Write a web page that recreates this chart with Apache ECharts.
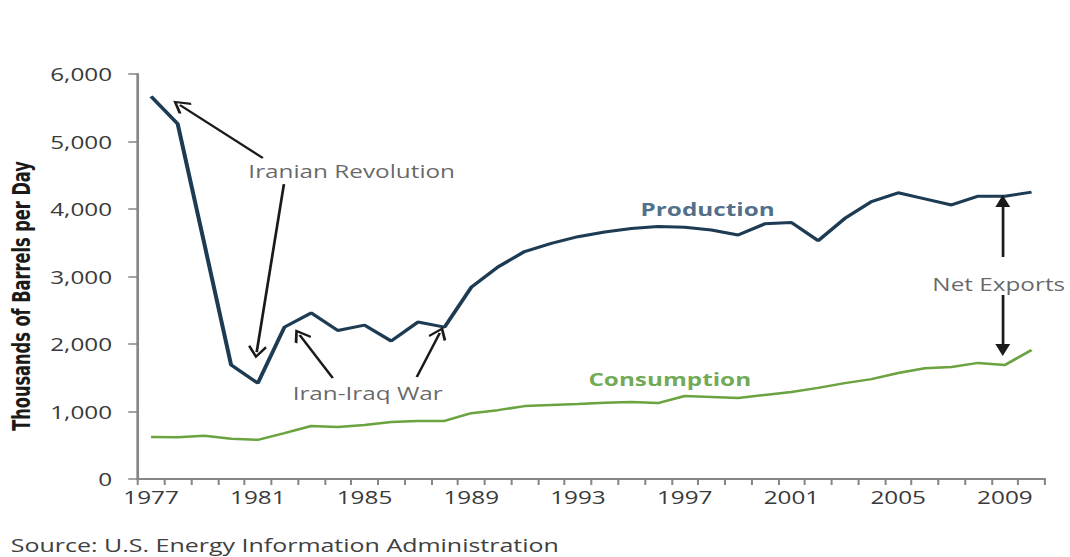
<!DOCTYPE html>
<html>
<head>
<meta charset="utf-8">
<title>Iran oil production and consumption</title>
<script src="https://cdn.jsdelivr.net/npm/echarts@6/dist/echarts.min.js"></script>
<style>
  html, body {
    margin: 0;
    padding: 0;
    background: #fff;
    overflow: hidden;
  }
  /* the source picture is stretched sideways, so the chart is drawn narrower and widened */
  #chart {
    width: 793px;
    height: 557px;
    transform: scaleX(1.35);
    transform-origin: 0 0;
  }
</style>
</head>
<body>
<div id="chart"></div>
<script>
// thousands of barrels per day
const years = [
  '1977', '1978', '1979', '1980', '1981', '1982', '1983', '1984', '1985', '1986',
  '1987', '1988', '1989', '1990', '1991', '1992', '1993', '1994', '1995', '1996',
  '1997', '1998', '1999', '2000', '2001', '2002', '2003', '2004', '2005', '2006',
  '2007', '2008', '2009', '2010',
];
const production = [
  5670, 5260, 3480, 1690, 1420, 2250, 2460, 2200, 2280, 2045,
  2325, 2250, 2840, 3140, 3370, 3490, 3590, 3660, 3710, 3740,
  3730, 3690, 3615, 3780, 3800, 3530, 3860, 4110, 4240, 4150,
  4060, 4190, 4190, 4250,
];
const consumption = [
  622, 620, 640, 595, 580, 680, 785, 770, 800, 845,
  860, 860, 975, 1020, 1080, 1095, 1110, 1130, 1140, 1125,
  1230, 1215, 1200, 1245, 1290, 1350, 1420, 1480, 1570, 1640,
  1660, 1720, 1690, 1910,
];

// text notes, anchored in (year, value) space
const notes = [
  { name: 'Iranian Revolution', year: 1984.52, value: 4563 },
  { name: 'Iran-Iraq War', year: 1985.12, value: 1274 },
  { name: 'Production', year: 1997.86, value: 4000 },
  { name: 'Consumption', year: 1996.44, value: 1481 },
  { name: 'Net Exports', year: 2008.77, value: 2889 },
];

// arrows: from (year, value) to (year, value)
const arrows = [
  { from: [1981.19, 4756], to: [1978.08, 5541], head: 'open' },
  { from: [1981.98, 4370], to: [1980.96, 1881], head: 'open' },
  { from: [1983.81, 1496], to: [1982.57, 2133], head: 'open' },
  { from: [1986.96, 1511], to: [1987.82, 2163], head: 'open' },
  { from: [2008.92, 3289], to: [2008.92, 4119], head: 'filled' },
  { from: [2008.92, 2726], to: [2008.92, 1911], head: 'filled' },
];

const TEXT_FONT = "'Open Sans', sans-serif";
const PROD_COLOR = '#1d3b53';
const CONS_COLOR = '#6aa33f';

const noteStyles = {
  Production: { color: '#22496b', fontWeight: 'bold' },
  Consumption: { color: '#4a9428', fontWeight: 'bold' },
};

const openHead = 'path://M0,0 L8,9 L6.4,10.4 L0,3 L-6.4,10.4 L-8,9 Z';

const chart = echarts.init(document.getElementById('chart'), null, { renderer: 'svg' });

const option = {
  animation: false,
  grid: {
    left: 102,
    right: 19,
    top: 74,
    bottom: 78,
  },
  xAxis: [
    {
      type: 'category',
      data: years,
      boundaryGap: true,
      axisLine: {
        lineStyle: { color: '#868686', width: 2 },
      },
      axisTick: {
        show: true,
        interval: 0,
        length: 6,
        lineStyle: { color: '#868686', width: 1.5 },
      },
      axisLabel: {
        interval: 3,
        margin: 9,
        fontFamily: TEXT_FONT,
        fontSize: 18,
        color: '#3a3a3a',
      },
      splitLine: { show: false },
    },
    {
      type: 'value',
      min: 1976.5,
      max: 2010.5,
      show: false,
    },
  ],
  yAxis: {
    type: 'value',
    min: 0,
    max: 6000,
    interval: 1000,
    axisLine: {
      show: true,
      lineStyle: { color: '#868686', width: 2 },
    },
    axisTick: {
      show: true,
      length: 7,
      lineStyle: { color: '#868686', width: 1.5 },
    },
    axisLabel: {
      margin: 19,
      fontFamily: TEXT_FONT,
      fontSize: 18,
      color: '#3a3a3a',
      formatter: (v) => v.toLocaleString('en-US'),
    },
    splitLine: { show: false },
  },
  series: [
    {
      name: 'Production',
      type: 'line',
      data: production,
      symbol: 'none',
      silent: true,
      lineStyle: { color: PROD_COLOR, width: 3 },
    },
    {
      name: 'Consumption',
      type: 'line',
      data: consumption,
      symbol: 'none',
      silent: true,
      lineStyle: { color: CONS_COLOR, width: 2.5 },
    },
    {
      name: 'notes',
      type: 'scatter',
      xAxisIndex: 1,
      silent: true,
      symbolSize: 1,
      itemStyle: { color: 'transparent' },
      data: notes.map((n) => ({
        name: n.name,
        value: [n.year, n.value],
        label: {
          show: true,
          position: 'inside',
          formatter: '{b}',
          fontFamily: TEXT_FONT,
          fontSize: 18,
          color: '#3f3f3f',
          ...(noteStyles[n.name] || {}),
        },
      })),
      markLine: {
        silent: true,
        symbolSize: [13, 13],
        label: { show: false },
        lineStyle: { color: '#1a1a1a', width: 2, type: 'solid' },
        data: arrows.map((a) => [
          { coord: a.from, symbol: 'none' },
          {
            coord: a.to,
            symbol: a.head === 'open' ? openHead : 'triangle',
            symbolSize: a.head === 'open' ? [14, 13] : [11, 12],
          },
        ]),
      },
    },
  ],
  graphic: [
    {
      type: 'text',
      x: 15.6,
      y: 296,
      rotation: Math.PI / 2,
      style: {
        text: 'Thousands of Barrels per Day',
        fontFamily: "'Liberation Sans Narrow', 'DejaVu Sans Condensed', sans-serif",
        fontWeight: 'bold',
        fontSize: 18,
        fill: '#1a1a1a',
        align: 'center',
        verticalAlign: 'middle',
      },
    },
    {
      type: 'text',
      x: 8,
      y: 545,
      style: {
        text: 'Source: U.S. Energy Information Administration',
        fontFamily: TEXT_FONT,
        fontSize: 18.5,
        fill: '#404040',
        align: 'left',
        verticalAlign: 'middle',
      },
    },
  ],
};

chart.setOption(option);
</script>
</body>
</html>
